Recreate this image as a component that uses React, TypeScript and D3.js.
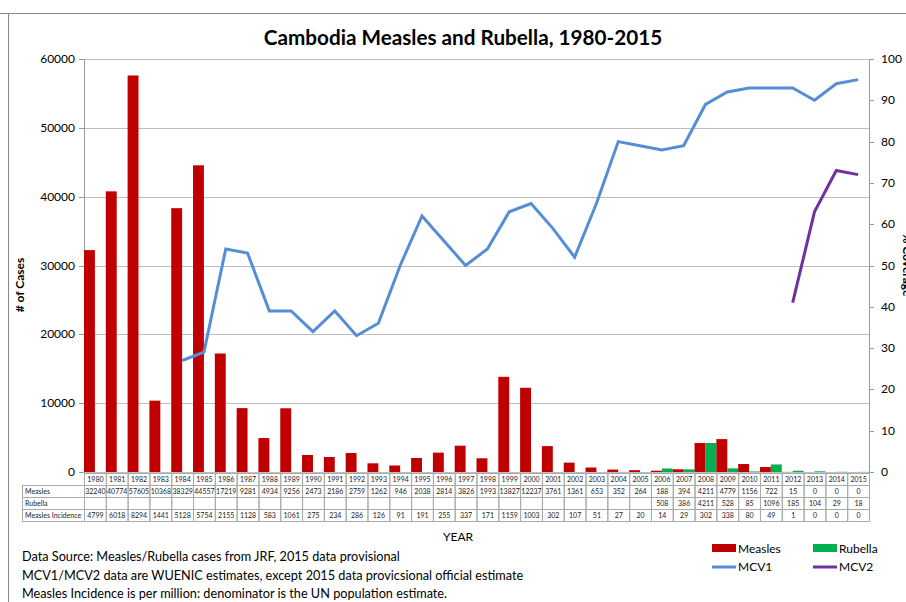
import * as d3 from "d3";
import React from "react";

const years = d3.range(1980, 2016).map(String);
const measles = [32240, 40774, 57605, 10368, 38329, 44557, 17219, 9281, 4934, 9256, 2473, 2186, 2759, 1262, 946, 2038, 2814, 3826, 1993, 13827, 12237, 3761, 1361, 653, 352, 264, 188, 394, 4211, 4779, 1156, 722, 15, 0, 0, 0];
const rubella: (number | null)[] = [null, null, null, null, null, null, null, null, null, null, null, null, null, null, null, null, null, null, null, null, null, null, null, null, null, null, 508, 386, 4211, 528, 85, 1096, 185, 104, 29, 18];
const incidence = [4799, 6018, 8294, 1441, 5128, 5754, 2155, 1128, 583, 1061, 275, 234, 286, 126, 91, 191, 255, 337, 171, 1159, 1003, 302, 107, 51, 27, 20, 14, 29, 302, 338, 80, 49, 1, 0, 0, 0];
const mcv1: (number | null)[] = [null, null, null, null, 27, 29, 54, 53, 39, 39, 34, 39, 33, 36, 50, 62, 56, 50, 54, 63, 65, 59, 52, 65, 80, 79, 78, 79, 89, 92, 93, 93, 93, 90, 94, 95];
const mcv2: (number | null)[] = [...Array(32).fill(null), 41, 63, 73, 72];
const leftTicks = [0, 10000, 20000, 30000, 40000, 50000, 60000];
const rightTicks = [0, 10, 20, 30, 40, 50, 60, 70, 80, 90, 100];
const notes = [
  "Data Source: Measles/Rubella cases from JRF, 2015 data provisional",
  "MCV1/MCV2 data are WUENIC estimates, except 2015 data provicsional official estimate",
  "Measles Incidence  is per million: denominator is the UN population  estimate.",
];

const RED = "#C00000";
const GREEN = "#00B050";
const BLUE = "#558ED5";
const PURPLE = "#7030A0";
const FONT = "Lato, 'Open Sans', sans-serif";

export default function App() {
  const left = 84, right = 869, top = 59, bottom = 472;
  const x = d3.scaleBand<string>().domain(years).range([left, right]).padding(0);
  const yL = d3.scaleLinear().domain([0, 60000]).range([bottom, top]);
  const yR = d3.scaleLinear().domain([0, 100]).range([bottom, top]);
  const bw = x.bandwidth();

  const line = d3
    .line<number | null>()
    .defined((d) => d != null)
    .x((_, i) => x(years[i])! + bw / 2)
    .y((d) => yR(d as number));

  const rows = [
    { label: "", vals: years },
    { label: "Measles", vals: measles.map(String) },
    { label: "Rubella", vals: rubella.map((v) => (v == null ? "" : String(v))) },
    { label: "Measles Incidence", vals: incidence.map(String) },
  ];
  const rowH = 12;
  const tableTop = 473;

  return (
    <svg width={906} height={602} style={{ position: "absolute", left: 0, top: 0 }} fontFamily={FONT}>
      <rect x={0} y={0} width={906} height={602} fill="#fff" />
      <line x1={0} x2={906} y1={13.5} y2={13.5} stroke="#888" />
      <line x1={8.5} x2={8.5} y1={13} y2={602} stroke="#888" />

      <text x={463} y={45} textAnchor="middle" fontSize={20.7} fontWeight="bold">
        Cambodia Measles and Rubella, 1980-2015
      </text>

      {leftTicks.map((t) => (
        <g key={"gl" + t}>
          <line x1={left} x2={right} y1={Math.round(yL(t)) + 0.5} y2={Math.round(yL(t)) + 0.5} stroke="#BEBEBE" />
          <line x1={left - 5} x2={left} y1={Math.round(yL(t)) + 0.5} y2={Math.round(yL(t)) + 0.5} stroke="#999" />
          <text x={75} y={yL(t) + 4} textAnchor="end" fontSize={12}>
            {t}
          </text>
        </g>
      ))}
      {rightTicks.map((t) => (
        <g key={"gr" + t}>
          <line x1={right} x2={right + 5} y1={Math.round(yR(t)) + 0.5} y2={Math.round(yR(t)) + 0.5} stroke="#999" />
          <text x={881} y={yR(t) + 4} fontSize={12}>
            {t}
          </text>
        </g>
      ))}
      <line x1={left + 0.5} x2={left + 0.5} y1={top} y2={bottom} stroke="#999" />
      <line x1={right + 0.5} x2={right + 0.5} y1={top} y2={bottom} stroke="#999" />

      <text transform="translate(24,285) rotate(-90)" textAnchor="middle" fontSize={12} fontWeight="bold">
        # of Cases
      </text>
      <text transform="translate(903,265) rotate(90)" textAnchor="middle" fontSize={12} fontWeight="bold">
        % Coverage
      </text>

      {years.map((yr, i) => (
        <g key={"b" + yr}>
          <rect x={x(yr)!} y={yL(measles[i])} width={bw / 2} height={bottom - yL(measles[i])} fill={RED} />
          {rubella[i] != null && (
            <rect x={x(yr)! + bw / 2} y={yL(rubella[i]!)} width={bw / 2} height={bottom - yL(rubella[i]!)} fill={GREEN} />
          )}
        </g>
      ))}

      <path d={line(mcv1)!} fill="none" stroke={BLUE} strokeWidth={3} />
      <path d={line(mcv2)!} fill="none" stroke={PURPLE} strokeWidth={3} />

      {/* data table */}
      <g fontSize={7} fill="#222">
        {rows.map((r, ri) => {
          const y0 = tableTop + ri * rowH;
          return (
            <g key={"r" + ri}>
              {ri > 0 && (
                <>
                  <rect x={22.5} y={y0 + 0.5} width={left - 22} height={rowH} fill="none" stroke="#AAA" />
                  <text x={25} y={y0 + 9}>
                    {r.label}
                  </text>
                </>
              )}
              {years.map((yr, i) => (
                <g key={"c" + yr}>
                  <rect x={x(yr)! + 0.5} y={y0 + 0.5} width={bw} height={rowH} fill="none" stroke="#AAA" />
                  <text x={x(yr)! + bw / 2 + 0.5} y={y0 + 9} textAnchor="middle">
                    {r.vals[i]}
                  </text>
                </g>
              ))}
            </g>
          );
        })}
      </g>

      <text x={458} y={541} textAnchor="middle" fontSize={12}>
        YEAR
      </text>

      {notes.map((n, i) => (
        <text key={"n" + i} x={22} y={561 + i * 18.5} fontSize={12.7}>
          {n}
        </text>
      ))}

      <g fontSize={12}>
        <rect x={712} y={544} width={24} height={8} fill={RED} />
        <text x={738} y={553}>Measles</text>
        <rect x={813} y={544} width={24} height={8} fill={GREEN} />
        <text x={839} y={553}>Rubella</text>
        <line x1={712} x2={736} y1={567} y2={567} stroke={BLUE} strokeWidth={3} />
        <text x={738} y={571}>MCV1</text>
        <line x1={813} x2={837} y1={567} y2={567} stroke={PURPLE} strokeWidth={3} />
        <text x={839} y={571}>MCV2</text>
      </g>
    </svg>
  );
}
